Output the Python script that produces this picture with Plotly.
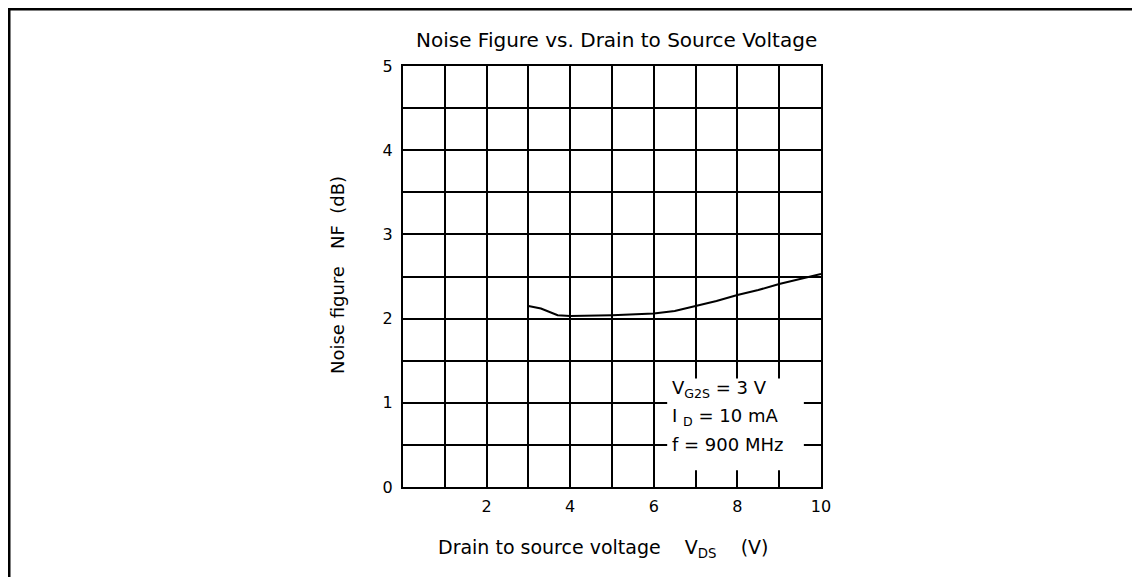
import plotly.graph_objects as go

# Data
vds = [3.0, 3.3, 3.7, 4.0, 5.0, 6.0, 6.5, 7.0, 7.5, 8.0, 8.5, 9.0, 9.5, 10.0]
nf = [2.15, 2.12, 2.04, 2.03, 2.04, 2.06, 2.09, 2.15, 2.21, 2.28, 2.34, 2.41, 2.47, 2.53]

x_tickvals = [2, 4, 6, 8, 10]
x_ticktext = ["2", "4", "6", "8", "10"]
x_gridvals = [0, 1, 2, 3, 4, 5, 6, 7, 8, 9, 10]
y_tickvals = [0, 1, 2, 3, 4, 5]
y_ticktext = ["0", "1", "2", "3", "4", "5"]
y_gridvals = [0, 0.5, 1, 1.5, 2, 2.5, 3, 3.5, 4, 4.5, 5]

NB = "\u00a0"
cond_lines = ["V<sub>G2S</sub>" + NB + "=" + NB + "3" + NB + "V",
              "I" + NB + "<sub>D</sub>" + NB + "=" + NB + "10" + NB + "mA",
              "f" + NB + "=" + NB + "900" + NB + "MHz"]
cond_y = [1.16, 0.83, 0.5]

FONT = "DejaVu Sans"

fig = go.Figure()
fig.add_trace(go.Scatter(x=vds, y=nf, mode="lines",
                         line=dict(color="black", width=2), showlegend=False,
                         hoverinfo="skip"))

# the page body adds an 8px offset; figure sized so the plot lands where the reference has it
fig.update_layout(
    width=1132, height=569,
    margin=dict(l=395, r=319, t=58, b=90),
    paper_bgcolor="white", plot_bgcolor="white",
    font=dict(family=FONT, size=16, color="black"),
    showlegend=False,
)
fig.update_xaxes(range=[0, 10], tickmode="array", tickvals=x_tickvals, ticktext=x_ticktext,
                 showgrid=True, gridcolor="black", gridwidth=2,
                 minor=dict(tickmode="array", tickvals=x_gridvals, showgrid=True,
                            gridcolor="black", gridwidth=2, ticks=""),
                 showline=True, linecolor="black", linewidth=2, mirror=True,
                 ticks="", ticklabelstandoff=4, zeroline=False,
                 tickfont=dict(family=FONT, size=16))
fig.update_yaxes(range=[0, 5], tickmode="array", tickvals=y_tickvals, ticktext=y_ticktext,
                 showgrid=True, gridcolor="black", gridwidth=2,
                 minor=dict(tickmode="array", tickvals=y_gridvals, showgrid=True,
                            gridcolor="black", gridwidth=2, ticks=""),
                 showline=True, linecolor="black", linewidth=2, mirror=True,
                 ticks="", ticklabelstandoff=5, zeroline=False,
                 tickfont=dict(family=FONT, size=16))

# white box for conditions
fig.add_shape(type="rect", xref="x", yref="y", x0=6.32, x1=9.59, y0=0.2, y1=1.29,
              fillcolor="white", line=dict(width=0), layer="above")
for t, yy in zip(cond_lines, cond_y):
    fig.add_annotation(x=6.38, y=yy, xref="x", yref="y", text=t, showarrow=False,
                       xanchor="left", yanchor="middle",
                       font=dict(family=FONT, size=18, color="black"))

# titles
fig.add_annotation(x=0.51, y=1.062, xref="paper", yref="paper",
                   text="Noise Figure vs. Drain to Source Voltage", showarrow=False,
                   xanchor="center", yanchor="middle", font=dict(family=FONT, size=20))
fig.add_annotation(x=0.48, y=-0.145, xref="paper", yref="paper",
                   text="Drain to source voltage" + NB * 4 + "V<sub>DS</sub>" + NB * 4 + "(V)",
                   showarrow=False, xanchor="center", yanchor="middle",
                   font=dict(family=FONT, size=19))
fig.add_annotation(x=-0.155, y=0.504, xref="paper", yref="paper",
                   text="Noise figure" + NB * 3 + "NF" + NB * 2 + "(dB)", textangle=-90,
                   showarrow=False, xanchor="center", yanchor="middle",
                   font=dict(family=FONT, size=18))

# outer frame corner (top and left edges), in page pixels
px_x = lambda p: (p - 403) / 418
px_y = lambda p: (487 - p) / 421
fig.add_shape(type="line", xref="paper", yref="paper", x0=px_x(8.5), x1=px_x(1150),
              y0=px_y(9), y1=px_y(9), line=dict(color="black", width=3), layer="above")
fig.add_shape(type="line", xref="paper", yref="paper", x0=px_x(9), x1=px_x(9),
              y0=px_y(8), y1=px_y(590), line=dict(color="black", width=3), layer="above")

fig.write_html("out.html")
